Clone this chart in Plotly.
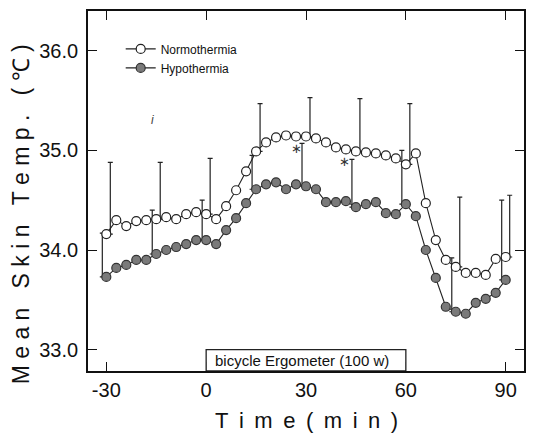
import plotly.graph_objects as go

# ---- data ----
time_min = list(range(-30, 91, 3))
normothermia = [34.16, 34.30, 34.24, 34.29, 34.30, 34.31, 34.33, 34.31, 34.36, 34.38,
                34.36, 34.31, 34.44, 34.60, 34.79, 34.99, 35.08, 35.13, 35.15, 35.14,
                35.14, 35.12, 35.08, 35.03, 35.01, 34.99, 34.98, 34.97, 34.95, 34.92,
                34.86, 34.97, 34.47, 34.10, 33.90, 33.83, 33.77, 33.77, 33.75, 33.91,
                33.93]
hypothermia = [33.73, 33.82, 33.85, 33.90, 33.90, 33.96, 34.00, 34.03, 34.06, 34.10,
               34.10, 34.06, 34.20, 34.32, 34.47, 34.61, 34.66, 34.68, 34.61, 34.66,
               34.64, 34.61, 34.48, 34.48, 34.49, 34.43, 34.46, 34.48, 34.37, 34.36,
               34.46, 34.34, 34.00, 33.72, 33.43, 33.38, 33.36, 33.47, 33.51, 33.57,
               33.70]
err_times = [-30, -15, 0, 15, 30, 45, 60, 75, 90]
normo_sd = [0.72, 0.57, 0.56, 0.48, 0.39, 0.53, 0.61, 0.70, 0.62]
hypo_sd = [0.44, 0.44, 0.40, 0.34, 0.43, 0.48, 0.54, 0.54, 0.80]
x_ticks = [-30, 0, 30, 60, 90]
y_ticks = [33.0, 34.0, 35.0, 36.0]
y_tick_labels = ["33.0", "34.0", "35.0", "36.0"]
ergo_start, ergo_end, ergo_top = 0, 60, 33.0
ergo_label = "bicycle Ergometer (100 w)"
sig_marks = [(27.1, 35.02), (41.5, 34.89)]

X_RANGE = [-35.5, 95.5]
Y_RANGE = [32.785, 36.40]
BAR_SHIFT = 1.2

FONT = "Liberation Sans, Arial, sans-serif"

def at_times(series, times):
    return [series[time_min.index(t)] for t in times]

fig = go.Figure()

# error bars (upper only), drawn slightly offset from the points
fig.add_trace(go.Scatter(
    x=[t + BAR_SHIFT for t in err_times], y=at_times(normothermia, err_times),
    mode="markers", marker=dict(size=1, color="rgba(0,0,0,0)"),
    error_y=dict(type="data", symmetric=False, array=normo_sd,
                 arrayminus=[0] * len(normo_sd), color="#222", thickness=1.2, width=2.5),
    showlegend=False, hoverinfo="skip"))
fig.add_trace(go.Scatter(
    x=[t - BAR_SHIFT for t in err_times], y=at_times(hypothermia, err_times),
    mode="markers", marker=dict(size=1, color="rgba(0,0,0,0)"),
    error_y=dict(type="data", symmetric=False, array=hypo_sd,
                 arrayminus=[0] * len(hypo_sd), color="#222", thickness=1.2, width=2.5),
    showlegend=False, hoverinfo="skip"))

fig.add_trace(go.Scatter(
    x=time_min, y=normothermia, mode="lines+markers", name="Normothermia",
    line=dict(color="#222", width=1.1),
    marker=dict(symbol="circle", size=9, color="white", line=dict(color="#222", width=1.2))))
fig.add_trace(go.Scatter(
    x=time_min, y=hypothermia, mode="lines+markers", name="Hypothermia",
    line=dict(color="#222", width=1.1),
    marker=dict(symbol="circle", size=9, color="#7a7a7a", line=dict(color="#333", width=1.2))))

# ergometer box
fig.add_shape(type="rect", xref="x", yref="y", x0=ergo_start, x1=ergo_end,
              y0=Y_RANGE[0], y1=ergo_top, line=dict(color="#222", width=1.3),
              fillcolor="white", layer="above")
fig.add_annotation(x=(ergo_start + ergo_end) / 2 - 1.3, y=(Y_RANGE[0] + ergo_top) / 2,
                   xref="x", yref="y", text=ergo_label, showarrow=False,
                   font=dict(family=FONT, size=15, color="#111"))

for sx, sy in sig_marks:
    fig.add_annotation(x=sx, y=sy, xref="x", yref="y", text="∗", showarrow=False,
                       font=dict(family="DejaVu Sans", size=13, color="#333"))

# stray scan mark
fig.add_annotation(x=-16.1, y=35.31, xref="x", yref="y", text="<i>i</i>", showarrow=False,
                   font=dict(family=FONT, size=12, color="#444"))

NB = "\u00a0"
HS = "\u2009"
ytitle = (NB * 3).join(NB.join(w) for w in ["Mean", "Skin", "Temp.", "(℃)"])
xtitle = (NB + HS).join("Time(min)")

fig.add_annotation(x=-0.153, y=0.436, xref="paper", yref="paper", text=ytitle,
                   textangle=-90, showarrow=False, xanchor="center", yanchor="middle",
                   font=dict(family=FONT, size=23, color="#111"))
fig.add_annotation(x=0.5, y=-0.138, xref="paper", yref="paper", text=xtitle,
                   showarrow=False, xanchor="center", yanchor="middle",
                   font=dict(family=FONT, size=22, color="#111"))

axis_common = dict(showgrid=False, zeroline=False, showline=True, linecolor="#111",
                   linewidth=1.6, mirror="ticks", ticks="inside", ticklen=9,
                   tickwidth=1.4, tickcolor="#111",
                   tickfont=dict(family=FONT, size=20, color="#111"))

fig.update_layout(
    width=535, height=434,
    margin=dict(l=88, r=9, t=9, b=63),
    paper_bgcolor="white", plot_bgcolor="white",
    xaxis=dict(range=X_RANGE, tickvals=x_ticks, ticktext=[str(v) for v in x_ticks], **axis_common),
    yaxis=dict(range=Y_RANGE, tickvals=y_ticks, ticktext=y_tick_labels,
               ticklabelstandoff=4, **axis_common),
    legend=dict(x=0.075, y=0.935, xanchor="left", yanchor="top",
                bgcolor="rgba(0,0,0,0)", itemwidth=30, tracegroupgap=0,
                font=dict(family=FONT, size=12, color="#111")),
    showlegend=True,
)

fig.write_html("out.html")
